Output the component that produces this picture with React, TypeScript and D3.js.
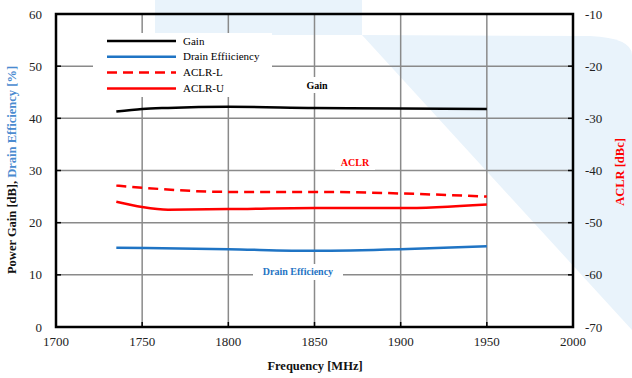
import React from "react";
import * as d3 from "d3";

const xTicks = [1700, 1750, 1800, 1850, 1900, 1950, 2000];
const leftTicks = [0, 10, 20, 30, 40, 50, 60];
const rightTicks = [-70, -60, -50, -40, -30, -20, -10];

const gainFreq = [1735, 1750, 1765, 1800, 1850, 1900, 1950];
const gainVals = [41.3, 41.8, 42.0, 42.2, 42.0, 41.9, 41.8];

const deFreq = [1735, 1800, 1850, 1900, 1950];
const deVals = [15.2, 14.9, 14.6, 14.9, 15.5];

const aclrLFreq = [1735, 1750, 1800, 1850, 1900, 1950];
const aclrLVals = [-42.9, -43.3, -44.1, -44.1, -44.4, -45.0];

const aclrUFreq = [1735, 1750, 1765, 1800, 1850, 1900, 1950];
const aclrUVals = [-46.0, -47.0, -47.5, -47.4, -47.2, -47.2, -46.5];

const legendNames = ["Gain", "Drain Effiiciency", "ACLR-L", "ACLR-U"];

const W = 632, H = 378;
const L = 56, R = 573, T = 14, B = 327;
const BLUE = "#1f74c4";
const RED = "#ff0000";
const FONT = "'Liberation Serif', 'DejaVu Serif', serif";

export default function App() {
  const x = d3.scaleLinear().domain([1700, 2000]).range([L, R]);
  const yL = d3.scaleLinear().domain([0, 60]).range([B, T]);
  const yR = d3.scaleLinear().domain([-70, -10]).range([B, T]);

  const mk = (fs: number[], vs: number[], y: d3.ScaleLinear<number, number>) =>
    d3.line<number>().x((_, i) => x(fs[i])).y((v) => y(v)).curve(d3.curveMonotoneX)(vs) || "";

  const series = [
    { name: legendNames[0], d: mk(gainFreq, gainVals, yL), color: "#000", dash: undefined },
    { name: legendNames[1], d: mk(deFreq, deVals, yL), color: BLUE, dash: undefined },
    { name: legendNames[2], d: mk(aclrLFreq, aclrLVals, yR), color: RED, dash: "10,6" },
    { name: legendNames[3], d: mk(aclrUFreq, aclrUVals, yR), color: RED, dash: undefined },
  ];

  const wm = "#e9f3fb";

  return (
    <svg width={W} height={H} style={{ position: "absolute", left: 0, top: 0, background: "#fff", fontFamily: FONT }}>
      {/* watermark */}
      <path d="M155,0 L362,0 L362,35 L155,35 Z" fill={wm} />
      <path d="M362,35 L590,36 Q632,38 632,55 L632,330 Z" fill={wm} />

      {/* gridlines */}
      {xTicks.slice(1, -1).map((t) => (
        <line key={"gx" + t} x1={x(t)} x2={x(t)} y1={T} y2={B} stroke="#8a8a8a" strokeWidth={1.5} />
      ))}
      {leftTicks.slice(1, -1).map((t) => (
        <line key={"gy" + t} x1={L} x2={R} y1={yL(t)} y2={yL(t)} stroke="#8a8a8a" strokeWidth={1.5} />
      ))}

      {/* legend box */}
      <rect x={93} y={33} width={179} height={64} fill="#fff" />
      {series.map((s, i) => {
        const yy = 41 + i * 15.8;
        return (
          <g key={"lg" + i}>
            <line x1={107} x2={176} y1={yy} y2={yy} stroke={s.color} strokeWidth={2.5} strokeDasharray={s.dash} />
            <text x={183} y={yy + 3.5} fontSize={11} fill="#000">{s.name}</text>
          </g>
        );
      })}

      {/* inline labels */}
      <rect x={300} y={77} width={34} height={16} fill="#fff" />
      <text x={317} y={89} fontSize={10} fontWeight="bold" textAnchor="middle" fill="#000">Gain</text>
      <rect x={335} y={156} width={40} height={14} fill="#fff" />
      <text x={355} y={166} fontSize={10} fontWeight="bold" textAnchor="middle" fill={RED}>ACLR</text>
      <rect x={253} y={264} width={90} height={16} fill="#fff" />
      <text x={298} y={275} fontSize={10} fontWeight="bold" textAnchor="middle" fill={BLUE}>Drain Efficiency</text>

      {/* series */}
      {series.map((s, i) => (
        <path key={"s" + i} d={s.d} fill="none" stroke={s.color} strokeWidth={2.5} strokeDasharray={s.dash} />
      ))}

      {/* ticks (inward) */}
      {xTicks.slice(1, -1).map((t) => (
        <line key={"tx" + t} x1={x(t)} x2={x(t)} y1={B} y2={B - 5} stroke="#000" strokeWidth={1.5} />
      ))}
      {leftTicks.slice(1, -1).map((t) => (
        <g key={"ty" + t}>
          <line x1={L} x2={L + 5} y1={yL(t)} y2={yL(t)} stroke="#000" strokeWidth={1.5} />
          <line x1={R} x2={R - 5} y1={yL(t)} y2={yL(t)} stroke="#000" strokeWidth={1.5} />
        </g>
      ))}

      {/* frame */}
      <rect x={L} y={T} width={R - L} height={B - T} fill="none" stroke="#000" strokeWidth={2.5} />

      {/* tick labels */}
      {xTicks.map((t) => (
        <text key={"xl" + t} x={x(t)} y={346} fontSize={13} textAnchor="middle" fill="#222">{t}</text>
      ))}
      {leftTicks.map((t) => (
        <text key={"yl" + t} x={42} y={yL(t) + 4.5} fontSize={13} textAnchor="end" fill="#222">{t}</text>
      ))}
      {rightTicks.map((t) => (
        <text key={"yr" + t} x={585} y={yR(t) + 4.5} fontSize={13} textAnchor="start" fill="#222">{t}</text>
      ))}

      {/* axis titles */}
      <text x={315} y={370} fontSize={12.5} fontWeight="bold" textAnchor="middle" fill="#111">Frequency [MHz]</text>
      <text transform="translate(16,170) rotate(-90)" fontSize={12.5} fontWeight="bold" textAnchor="middle">
        <tspan fill="#111">Power Gain [dB], </tspan>
        <tspan fill="#4a8bd0">Drain Efficiency [%]</tspan>
      </text>
      <text transform="translate(624,172) rotate(-90)" fontSize={12.5} fontWeight="bold" textAnchor="middle" fill={RED}>ACLR [dBc]</text>
    </svg>
  );
}
